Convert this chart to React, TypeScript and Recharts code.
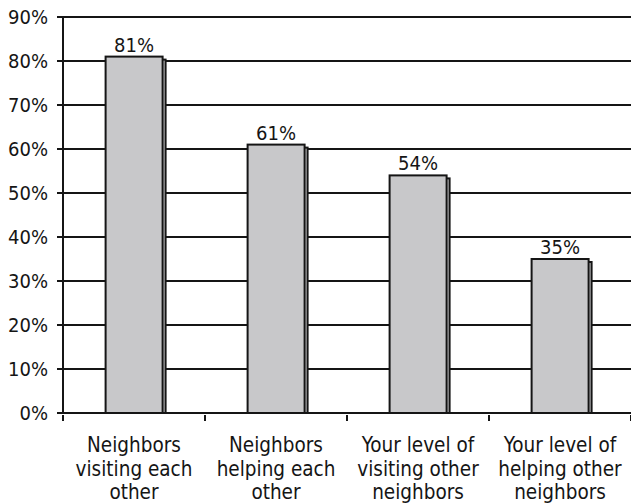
import React from "react";
import {
  BarChart,
  Bar,
  XAxis,
  YAxis,
  CartesianGrid,
  LabelList,
} from "recharts";

const categories = [
  ["Neighbors", "visiting each", "other"],
  ["Neighbors", "helping each", "other"],
  ["Your level of", "visiting other", "neighbors"],
  ["Your level of", "helping other", "neighbors"],
];
const values = [81, 61, 54, 35];
const yTicks = [0, 10, 20, 30, 40, 50, 60, 70, 80, 90];

const data = categories.map((lines, i) => ({
  name: lines.join(" "),
  lines,
  value: values[i],
}));

const FONT = "'Liberation Sans Narrow', 'DejaVu Sans Condensed', 'Liberation Sans', sans-serif";
const INK = "#151515";
const GRAY = "#c8c8ca";

function ShadowBar(props: any) {
  const { x, y, width, height } = props;
  if (height <= 0) return null;
  return (
    <g>
      <rect x={x + 3} y={y + 3} width={width} height={height - 3} fill={GRAY} stroke={INK} strokeWidth={2} />
      <rect x={x} y={y} width={width} height={height} fill={GRAY} stroke={INK} strokeWidth={2} />
    </g>
  );
}

function CategoryTick(props: any) {
  const { x, y, payload } = props;
  const half = payload && payload.offset ? payload.offset : 71;
  const lines: string[] = data[payload.index]?.lines ?? [String(payload.value)];
  return (
    <g>
      <line x1={x - half} y1={y - 6} x2={x - half} y2={y} stroke={INK} strokeWidth={2} />
      <line x1={x + half} y1={y - 6} x2={x + half} y2={y} stroke={INK} strokeWidth={2} />
      <text textAnchor="middle" fontFamily={FONT} fontSize={20.5} fill={INK}>
        {lines.map((l, i) => (
          <tspan key={i} x={x} y={y + 31 + i * 23.5}>
            {l}
          </tspan>
        ))}
      </text>
    </g>
  );
}

export default function App() {
  return (
    <div style={{ position: "absolute", left: 0, top: 0, background: "#fff" }}>
      <BarChart
        width={631}
        height={504}
        data={data}
        margin={{ top: 17, right: 0, left: 0, bottom: 0 }}
        barCategoryGap="30%"
      >
        <CartesianGrid vertical={false} stroke={INK} strokeWidth={2} />
        <XAxis
          dataKey="name"
          interval={0}
          height={91}
          axisLine={{ stroke: INK, strokeWidth: 2 }}
          tickLine={false}
          tick={<CategoryTick />}
        />
        <YAxis
          domain={[0, 90]}
          ticks={yTicks}
          width={63}
          interval={0}
          tickFormatter={(v: number) => `${v}%`}
          axisLine={{ stroke: INK, strokeWidth: 2 }}
          tickLine={{ stroke: INK, strokeWidth: 2 }}
          tickSize={6}
          tickMargin={9}
          tick={{ fontFamily: FONT, fontSize: 20, fill: INK }}
        />
        <Bar dataKey="value" shape={<ShadowBar />} isAnimationActive={false}>
          <LabelList
            dataKey="value"
            position="top"
            offset={5}
            formatter={(v: any) => `${v}%`}
            style={{ fontFamily: FONT, fontSize: 20, fill: INK }}
          />
        </Bar>
      </BarChart>
    </div>
  );
}
